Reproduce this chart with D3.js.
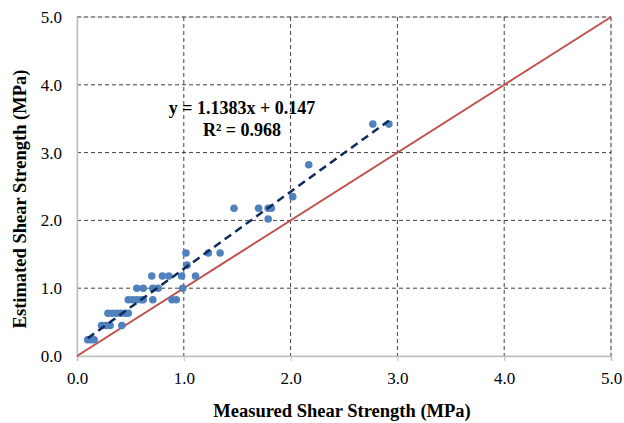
<!DOCTYPE html>
<html><head><meta charset="utf-8">
<script src="https://cdn.jsdelivr.net/npm/d3@7"></script>
<style>body{margin:0;background:#fff;} text{font-family:"Liberation Serif","Times New Roman",serif;}</style>
</head><body>
<svg id="c" width="624" height="423"></svg>
<script>
const measured = [0.10,0.13,0.16, 0.23,0.27,0.31,0.42, 0.29,0.33,0.37,0.41,0.45,0.48,
  0.48,0.52,0.56,0.60,0.62,0.71,0.89,0.93, 0.56,0.62,0.71,0.76,0.99,
  0.70,0.80,0.86,0.98,1.11, 1.03, 1.02,1.23,1.34, 1.47,1.70,1.79,1.82, 1.79, 2.02, 2.17, 2.77,2.92];
const estimated = [0.24,0.24,0.24, 0.45,0.45,0.45,0.45, 0.63,0.63,0.63,0.63,0.63,0.63,
  0.83,0.83,0.83,0.83,0.83,0.83,0.83,0.83, 1.00,1.00,1.00,1.00,1.00,
  1.18,1.18,1.18,1.18,1.18, 1.34, 1.52,1.52,1.52, 2.18,2.18,2.18,2.18, 2.02, 2.35, 2.82, 3.42,3.42];
const ticks = [0,1,2,3,4,5];
const trend = {slope:1.1383, intercept:0.147};
const eqText = "y = 1.1383x + 0.147";
const r2Text = "R² = 0.968";
const xTitle = "Measured Shear Strength (MPa)";
const yTitle = "Estimated Shear Strength (MPa)";

const svg = d3.select("#c");
const L=77, R=611, T=17, B=356;
const x = d3.scaleLinear().domain([0,5]).range([L,R]);
const y = d3.scaleLinear().domain([0,5]).range([B,T]);

// border
svg.append("rect").attr("x",L).attr("y",T).attr("width",R-L).attr("height",B-T)
  .attr("fill","none").attr("stroke","#d9d9d9").attr("stroke-width",1);
// gridlines
const g = svg.append("g");
ticks.filter(t=>t>0).forEach(t=>{
  g.append("line").attr("x1",x(t)).attr("x2",x(t)).attr("y1",T).attr("y2",B)
   .attr("stroke","#404040").attr("stroke-width",1).attr("stroke-dasharray","4,3");
  g.append("line").attr("x1",L).attr("x2",R).attr("y1",y(t)).attr("y2",y(t))
   .attr("stroke","#404040").attr("stroke-width",1).attr("stroke-dasharray","4,3");
});
// axes
const xAxis = svg.append("g").attr("transform",`translate(0,${B})`)
  .call(d3.axisBottom(x).tickValues(ticks).tickFormat(d3.format(".1f")).tickSize(5).tickPadding(11));
const yAxis = svg.append("g").attr("transform",`translate(${L},0)`)
  .call(d3.axisLeft(y).tickValues(ticks).tickFormat(d3.format(".1f")).tickSize(0).tickPadding(15));
[xAxis,yAxis].forEach(a=>{
  a.select(".domain").attr("stroke","#bfbfbf").attr("stroke-width",1.5);
  a.selectAll(".tick line").attr("stroke","#bfbfbf").attr("stroke-width",1);
  a.selectAll("text").attr("font-size",17).attr("fill","#000")
   .attr("font-family","Liberation Serif, Times New Roman, serif");
});

// 1:1 line
svg.append("line").attr("x1",x(0)).attr("y1",y(0)).attr("x2",x(5)).attr("y2",y(5))
  .attr("stroke","#c0504d").attr("stroke-width",2);

// points
svg.append("g").selectAll("circle").data(measured).join("circle")
  .attr("cx",d=>x(d)).attr("cy",(d,i)=>y(estimated[i])).attr("r",3.8).attr("fill","#4f81bd");

// trend line
const xmin=d3.min(measured), xmax=d3.max(measured);
svg.append("line").attr("x1",x(xmin)).attr("y1",y(trend.slope*xmin+trend.intercept))
  .attr("x2",x(xmax)).attr("y2",y(trend.slope*xmax+trend.intercept))
  .attr("stroke","#0f2a5c").attr("stroke-width",2.5).attr("stroke-dasharray","8,5");

// equation
svg.append("text").attr("x",242).attr("y",114).attr("text-anchor","middle")
  .attr("font-size",18).attr("font-weight","bold").text(eqText);
svg.append("text").attr("x",242).attr("y",136).attr("text-anchor","middle")
  .attr("font-size",18).attr("font-weight","bold").text(r2Text);

// titles
svg.append("text").attr("x",342).attr("y",417).attr("text-anchor","middle")
  .attr("font-size",18.5).attr("font-weight","bold").text(xTitle);
svg.append("text").attr("transform","translate(26,199) rotate(-90)").attr("text-anchor","middle")
  .attr("font-size",18.5).attr("font-weight","bold").text(yTitle);
</script>
</body></html>
